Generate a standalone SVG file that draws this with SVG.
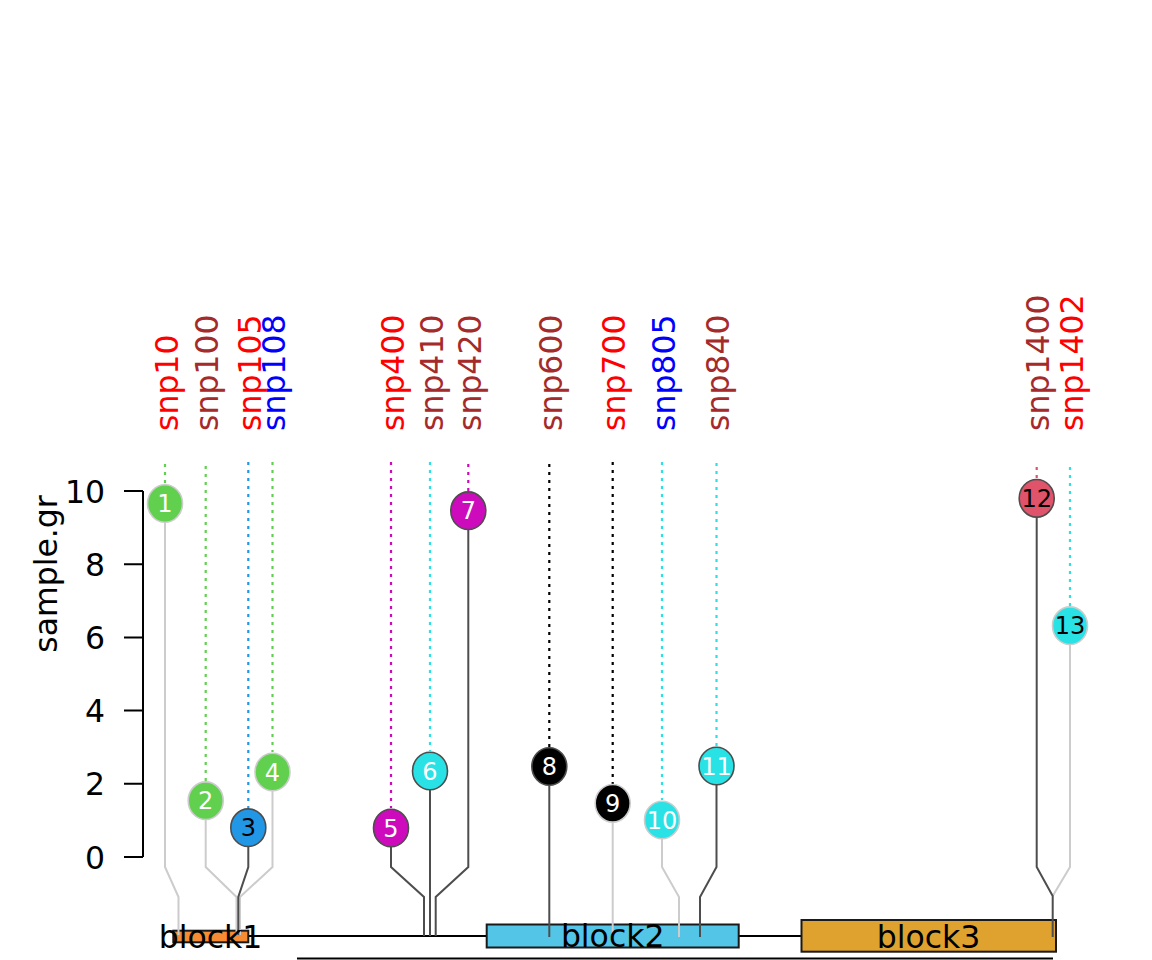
<svg xmlns="http://www.w3.org/2000/svg" width="1152" height="960" viewBox="0 0 1152 960">
<style>
text{font-family:"DejaVu Sans","Liberation Sans",sans-serif}
.lab{font-size:31.5px}
.num{font-size:24px;text-anchor:middle}
.w{fill:#FFFFFF}.k{fill:#000000}
.dk{stroke:#4D4D4D;stroke-width:2;fill:none}
.lt{stroke:#CCCCCC;stroke-width:2;fill:none}
.dot{stroke-width:2.2;stroke-dasharray:3 5;fill:none}
.cd{stroke:#4D4D4D;stroke-width:1.6}
.cl{stroke:#CCCCCC;stroke-width:1.6}
.red{fill:#FF0000}.brn{fill:#A52A2A}.blu{fill:#0000FF}
.blk{stroke:#1A1A1A;stroke-width:2}
</style>
<rect width="1152" height="960" fill="#FFFFFF"/>
<g id="axis" stroke="#000" stroke-width="2" fill="none">
<path d="M143 491V857M124 491H143M124 564.2H143M124 637.4H143M124 710.6H143M124 783.8H143M124 857H143"/>
</g>
<g id="axis-labels" class="lab" text-anchor="end">
<text x="105" y="502.5">10</text>
<text x="105" y="575.7">8</text>
<text x="105" y="648.9">6</text>
<text x="105" y="722.1">4</text>
<text x="105" y="795.3">2</text>
<text x="105" y="868.5">0</text>
<text class="lab" x="0" y="0" text-anchor="middle" transform="translate(57 574) rotate(-90)">sample.gr</text>
</g>
<g id="backbone">
<line x1="173" y1="936" x2="802" y2="936" stroke="#000" stroke-width="2"/>
<line x1="297" y1="958.5" x2="1053" y2="958.5" stroke="#000" stroke-width="2"/>
</g>
<g id="block1"><rect x="173.3" y="930.7" width="75" height="11.6" fill="#F68B33" class="blk"/></g>
<g id="block2"><rect x="486.7" y="924.5" width="252" height="23" fill="#53C5E6" class="blk"/></g>
<g id="block3"><rect x="801.5" y="920" width="254.5" height="31.7" fill="#DFA22F" class="blk"/></g>
<g id="connectors">
<path class="dot" stroke="#61D04F" d="M165 464V484"/>
<path class="dot" stroke="#61D04F" d="M205.7 466V781"/>
<path class="dot" stroke="#2297E6" d="M248.3 462V808"/>
<path class="dot" stroke="#61D04F" d="M272.5 462V752"/>
<path class="dot" stroke="#CD0BBC" d="M391 462V808"/>
<path class="dot" stroke="#28E2E5" d="M430 462V751"/>
<path class="dot" stroke="#CD0BBC" d="M468.3 464V491"/>
<path class="dot" stroke="#000000" d="M549.3 464V747"/>
<path class="dot" stroke="#000000" d="M612.7 462V784"/>
<path class="dot" stroke="#28E2E5" d="M662 462V800"/>
<path class="dot" stroke="#28E2E5" d="M716.5 463V746"/>
<path class="dot" stroke="#DF536B" d="M1036.7 467V478"/>
<path class="dot" stroke="#28E2E5" d="M1070 467V606"/>
<path class="lt" d="M165 503.5V867L178.5 897V935"/>
<path class="lt" d="M205.7 800.7V867L236.5 897V935"/>
<path class="lt" d="M272.5 772V867L240 897V935"/>
<path class="dk" d="M248.3 827.7V867L238.3 897V935"/>
<path class="dk" d="M391 828V867L424 897V936"/>
<path class="dk" d="M430 771V936"/>
<path class="dk" d="M468.3 510.7V867L435.7 897V936"/>
<path class="dk" d="M549.3 766.5V937"/>
<path class="lt" d="M612.7 803.3V937"/>
<path class="lt" d="M662 820V867L679 897V937"/>
<path class="dk" d="M716.5 766V867L700 897V937"/>
<path class="lt" d="M1070 625.7V867L1052.7 896"/>
<path class="dk" d="M1036.7 498.3V867L1052.7 896V937"/>
</g>
<g id="block-labels" class="lab" text-anchor="middle">
<text x="210.5" y="947.5">block1</text>
<text x="612.7" y="946.5">block2</text>
<text x="928.5" y="947.5">block3</text>
</g>
<g id="snp-labels" class="lab">
<text class="red" transform="translate(177.5 431) rotate(-90)">snp10</text>
<text class="brn" transform="translate(218 431) rotate(-90)">snp100</text>
<text class="red" transform="translate(260.5 431) rotate(-90)">snp105</text>
<text class="blu" transform="translate(285 431) rotate(-90)">snp108</text>
<text class="red" transform="translate(403.5 431) rotate(-90)">snp400</text>
<text class="brn" transform="translate(442.5 431) rotate(-90)">snp410</text>
<text class="brn" transform="translate(481 431) rotate(-90)">snp420</text>
<text class="brn" transform="translate(562 431) rotate(-90)">snp600</text>
<text class="red" transform="translate(625 431) rotate(-90)">snp700</text>
<text class="blu" transform="translate(674.5 431) rotate(-90)">snp805</text>
<text class="brn" transform="translate(729 431) rotate(-90)">snp840</text>
<text class="brn" transform="translate(1049 431) rotate(-90)">snp1400</text>
<text class="red" transform="translate(1082.5 431) rotate(-90)">snp1402</text>
</g>
<g id="n1"><ellipse cx="165" cy="503.5" rx="17.5" ry="18.8" fill="#61D04F" class="cl"/><text class="num w" x="165" y="512">1</text></g>
<g id="n2"><ellipse cx="205.7" cy="800.7" rx="17.5" ry="18.8" fill="#61D04F" class="cl"/><text class="num w" x="205.7" y="809.2">2</text></g>
<g id="n3"><ellipse cx="248.3" cy="827.7" rx="17.5" ry="18.8" fill="#2297E6" class="cd"/><text class="num k" x="248.3" y="836.2">3</text></g>
<g id="n4"><ellipse cx="272.5" cy="772" rx="17.5" ry="18.8" fill="#61D04F" class="cl"/><text class="num w" x="272.5" y="780.5">4</text></g>
<g id="n5"><ellipse cx="391" cy="828" rx="17.5" ry="18.8" fill="#CD0BBC" class="cd"/><text class="num w" x="391" y="836.5">5</text></g>
<g id="n6"><ellipse cx="430" cy="771" rx="17.5" ry="18.8" fill="#28E2E5" class="cd"/><text class="num w" x="430" y="779.5">6</text></g>
<g id="n7"><ellipse cx="468.3" cy="510.7" rx="17.5" ry="18.8" fill="#CD0BBC" class="cd"/><text class="num w" x="468.3" y="519.2">7</text></g>
<g id="n8"><ellipse cx="549.3" cy="766.5" rx="17.5" ry="18.8" fill="#000000" class="cd"/><text class="num w" x="549.3" y="775">8</text></g>
<g id="n9"><ellipse cx="612.7" cy="803.3" rx="17.5" ry="18.8" fill="#000000" class="cl"/><text class="num w" x="612.7" y="811.8">9</text></g>
<g id="n10"><ellipse cx="662" cy="820" rx="17.5" ry="18.8" fill="#28E2E5" class="cl"/><text class="num w" x="662" y="828.5">10</text></g>
<g id="n11"><ellipse cx="716.5" cy="766" rx="17.5" ry="18.8" fill="#28E2E5" class="cd"/><text class="num w" x="716.5" y="774.5">11</text></g>
<g id="n12"><ellipse cx="1036.7" cy="498.3" rx="17.5" ry="18.8" fill="#DF536B" class="cd"/><text class="num k" x="1036.7" y="506.8">12</text></g>
<g id="n13"><ellipse cx="1070" cy="625.7" rx="17.5" ry="18.8" fill="#28E2E5" class="cl"/><text class="num k" x="1070" y="634.2">13</text></g>
</svg>
